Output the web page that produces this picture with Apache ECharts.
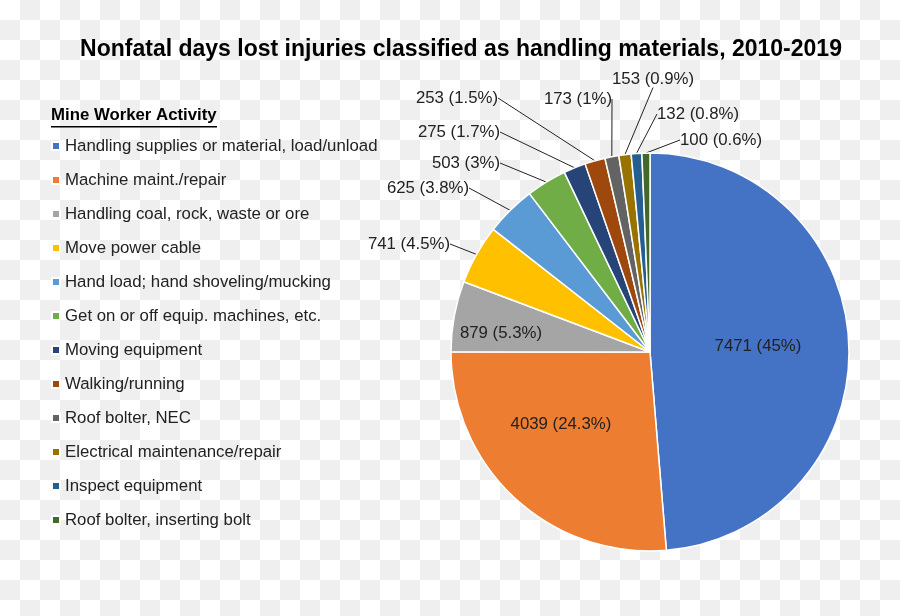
<!DOCTYPE html>
<html>
<head>
<meta charset="utf-8">
<script src="https://cdn.jsdelivr.net/npm/echarts@6/dist/echarts.min.js"></script>
<style>
html,body{margin:0;padding:0;}
body{width:900px;height:616px;background:repeating-conic-gradient(#efefef 0 25%, #ffffff 0 50%) 0 0/40px 40px;}
#c{width:900px;height:616px;}
</style>
</head>
<body>
<div id="c"></div>
<script>
const categories = [
  'Handling supplies or material, load/unload',
  'Machine maint./repair',
  'Handling coal, rock, waste or ore',
  'Move power cable',
  'Hand load; hand shoveling/mucking',
  'Get on or off equip. machines, etc.',
  'Moving equipment',
  'Walking/running',
  'Roof bolter, NEC',
  'Electrical maintenance/repair',
  'Inspect equipment',
  'Roof bolter, inserting bolt'
];
const values = [7471, 4039, 879, 741, 625, 503, 275, 253, 173, 153, 132, 100];
const percents = ['45%', '24.3%', '5.3%', '4.5%', '3.8%', '3%', '1.7%', '1.5%', '1%', '0.9%', '0.8%', '0.6%'];
const colors = ['#4472C4', '#ED7D31', '#A5A5A5', '#FFC000', '#5B9BD5', '#70AD47', '#264478', '#9E480E', '#636363', '#997300', '#255E91', '#43682B'];

// label placement (pixel anchors for the data labels, Excel-style layout)
const labelPlacement = [
  {x: 758, y: 346, align: 'center'},
  {x: 561, y: 424, align: 'center'},
  {x: 501, y: 333, align: 'center'},
  {x: 450, y: 244, align: 'right'},
  {x: 469, y: 188, align: 'right'},
  {x: 500, y: 163, align: 'right'},
  {x: 500, y: 132, align: 'right'},
  {x: 498, y: 98, align: 'right'},
  {x: 612, y: 99, align: 'right'},
  {x: 612, y: 79, align: 'left'},
  {x: 657, y: 114, align: 'left'},
  {x: 680, y: 140, align: 'left'}
];

const font = 'Arial, "Liberation Sans", sans-serif';
const chart = echarts.init(document.getElementById('c'), null, {renderer: 'canvas'});

const data = categories.map((name, i) => ({
  name: name,
  value: values[i],
  itemStyle: {color: colors[i]},
  label: i < 3 ? {position: 'inside'} : {position: 'outside'},
  labelLine: {show: i >= 3}
}));

chart.setOption({
  animation: false,
  backgroundColor: 'transparent',
  title: {
    text: 'Nonfatal days lost injuries classified as handling materials, 2010-2019',
    left: 456, top: 33, textAlign: 'center',
    textStyle: {fontFamily: font, fontSize: 23, fontWeight: 'bold', color: '#000'}
  },
  legend: {
    orient: 'vertical',
    left: 51, top: 137,
    padding: 0,
    itemWidth: 8, itemHeight: 8,
    itemGap: 16,
    icon: 'rect',
    data: categories,
    textStyle: {fontFamily: font, fontSize: 16.8, lineHeight: 18, color: '#222'}
  },
  graphic: [
    {type: 'text', left: 51, top: 107, style: {text: 'Mine Worker Activity', font: 'bold 16.8px ' + font, fill: '#000'}},
    {type: 'rect', left: 51, top: 126, shape: {width: 166, height: 1.5}, style: {fill: '#000'}}
  ],
  series: [{
    type: 'pie',
    center: [650, 352],
    radius: 199,
    startAngle: 90,
    clockwise: true,
    avoidLabelOverlap: false,
    itemStyle: {borderColor: '#fff', borderWidth: 1.5},
    label: {
      fontFamily: font, fontSize: 16.8, color: '#222',
      formatter: p => p.value + ' (' + percents[p.dataIndex] + ')'
    },
    labelLine: {length: 10, length2: 0, lineStyle: {color: '#222', width: 1}},
    labelLayout: p => {
      const lp = labelPlacement[p.dataIndex];
      return {x: lp.x, y: lp.y, align: lp.align, verticalAlign: 'middle'};
    },
    data: data
  }]
});
</script>
</body>
</html>
